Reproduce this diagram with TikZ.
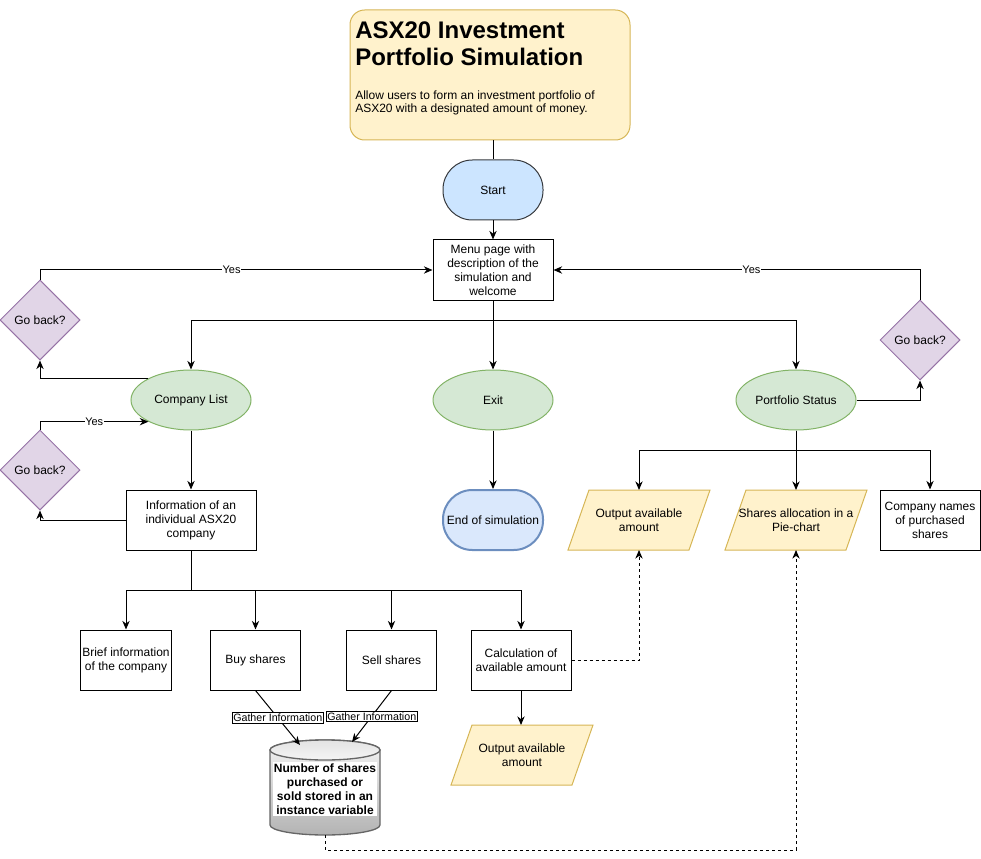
\documentclass[tikz,border=0pt]{standalone}
\usepackage{fontspec}
\setmainfont{Liberation Sans}
\usetikzlibrary{shapes.geometric,arrows.meta,calc}
\pgfdeclarelayer{background}
\pgfsetlayers{background,main}
\definecolor{ylwfill}{HTML}{FFF2CC}
\definecolor{ylwline}{HTML}{D6B656}
\definecolor{startfill}{HTML}{CCE5FF}
\definecolor{startline}{HTML}{36393D}
\definecolor{endfill}{HTML}{DAE8FC}
\definecolor{endline}{HTML}{6C8EBF}
\definecolor{grnfill}{HTML}{D5E8D4}
\definecolor{grnline}{HTML}{82B366}
\definecolor{purfill}{HTML}{E1D5E7}
\definecolor{purline}{HTML}{9673A6}
\definecolor{cyltop}{HTML}{F5F5F5}
\definecolor{cylbot}{HTML}{B3B3B3}
\definecolor{cylline}{HTML}{666666}
\begin{document}
\begin{tikzpicture}[x=0.75pt,y=-0.75pt,
  base/.style={font=\fontsize{9}{10.5}\selectfont, align=center, line width=0.75pt, inner sep=1pt},
  proc/.style={base, draw=black, fill=white, rectangle, minimum height=45pt},
  term/.style={base, rectangle, rounded corners=22pt, minimum width=75pt, minimum height=45pt},
  oval/.style={base, ellipse, draw=grnline, fill=grnfill, minimum width=90pt, minimum height=45pt},
  decide/.style={base, diamond, draw=purline, fill=purfill, minimum width=60pt, minimum height=60pt, inner sep=0pt},
  iobox/.style={base, rectangle, draw=none, outer sep=0pt, minimum width=106.5pt, minimum height=45pt},
  iofill/.style={draw=ylwline, fill=ylwfill, line width=0.75pt, line join=miter},
  arr/.style={draw=black, line width=0.75pt, -{Stealth[length=6.5pt,width=5.5pt]}},
  dsh/.style={dash pattern=on 2.25pt off 2.25pt},
  yes/.style={font=\fontsize{8.25}{9}\selectfont, fill=white, inner sep=0.5pt},
  gather/.style={font=\fontsize{8}{9}\selectfont, draw=black, fill=white, inner sep=1pt, line width=0.6pt}
]
\useasboundingbox (0,0) rectangle (981,859);

% title
\node[draw=ylwline, fill=ylwfill, line width=0.75pt, rounded corners=11pt,
      minimum width=210pt, minimum height=97.5pt] (title) at (490,75) {};
\node[anchor=base west, inner sep=0pt, font=\bfseries\fontsize{18}{20}\selectfont] (t1) at (355,39) {ASX20 Investment};
\node[anchor=base west, inner sep=0pt, font=\bfseries\fontsize{18}{20}\selectfont] (t2) at (355,65.7) {Portfolio Simulation};
\node[anchor=base west, inner sep=0pt, font=\fontsize{9}{10}\selectfont] (b1) at (355,99.3) {Allow users to form an investment portfolio of};
\node[anchor=base west, inner sep=0pt, font=\fontsize{9}{10}\selectfont] (b2) at (355,112.3) {ASX20 with a designated amount of money.};

% main flow
\node[term, draw=startline, fill=startfill] (start) at (493,190) {Start};
\node[proc, minimum width=90pt] (menu) at (493,270) {Menu page with\\description of the\\simulation and\\welcome};
\node[oval] (cl) at (191,400) {Company List};
\node[oval] (exit) at (493,400) {Exit};
\node[oval] (ps) at (796,400) {Portfolio Status};
\node[term, draw=endline, fill=endfill, line width=1.5pt] (end) at (493,520) {End of simulation};

\node[decide] (gb1) at (40,320) {Go back?};
\node[decide] (gb2) at (40,470) {Go back?};
\node[decide] (gb3) at (920,340) {Go back?};

\node[proc, minimum width=97.5pt] (info) at (191,520) {Information of an\\individual ASX20\\company};
\node[proc, minimum width=67.5pt] (brief) at (126,660) {Brief information\\of the company};
\node[proc, minimum width=67.5pt] (buy) at (255.5,660) {Buy shares};
\node[proc, minimum width=67.5pt] (sell) at (391.5,660) {Sell shares};
\node[proc, minimum width=75pt] (calc) at (521,660) {Calculation of\\available amount};

\node[iobox] (out1) at (639,520) {Output available\\amount};
\node[iobox] (shares) at (796,520) {Shares allocation in a\\Pie-chart};
\node[proc, minimum width=75pt] (cmp) at (930,520) {Company names\\of purchased\\shares};
\node[iobox] (out2) at (522,755) {Output available\\amount};

% database cylinder
\node[rectangle, draw=none, outer sep=0pt, minimum width=82.5pt, minimum height=71.25pt] (db) at (325,787.5) {};
\begin{pgfonlayer}{background}
  \foreach \n in {out1,shares,out2}{
    \path[iofill] (\n.south west) -- ($(\n.north west)+(21,0)$) -- (\n.north east) -- ($(\n.south east)+(-21,0)$) -- cycle;
  }
  \path[draw=cylline, line width=1pt, top color=cyltop, bottom color=cylbot]
    (270,750) -- (270,825) arc[start angle=180, end angle=360, x radius=41.25pt, y radius=7.5pt]
    -- (380,750) arc[start angle=0, end angle=180, x radius=41.25pt, y radius=7.5pt] -- cycle;
  \path[draw=cylline, line width=1pt, top color=gray!22, bottom color=cyltop] (325,750) ellipse[x radius=41.25pt, y radius=7.5pt];
\end{pgfonlayer}
\node[font=\bfseries\fontsize{9}{10.5}\selectfont, align=center, fill=white, inner sep=1pt] (dbt) at (325,789) {Number of shares\\purchased or\\sold stored in an\\instance variable};
\coordinate (dbin1) at (300,745);
\coordinate (dbin2) at (352,742);

% connectors
\draw[line width=0.75pt] (start.north |- title.south) -- (start.north);
\draw[arr] (start.south) -- (menu.north);
\draw[arr] (menu.south) -- ++(0,20) -| (cl.north);
\draw[arr] (menu.south) -- ++(0,20) -| (ps.north);
\draw[arr] (menu.south) -- (exit.north);
\draw[arr] (exit.south) -- (end.north);

\draw[arr] (cl.153) -| (gb1.south);
\draw[arr] (gb1.north) |- (menu.west) node[yes, pos=0.744] {Yes};
\draw[arr] (cl.south) -- (info.north);
\draw[arr] (info.west) -| (gb2.south);
\draw[arr] (gb2.north) |- (cl.207) node[yes, pos=0.75] {Yes};

\draw[arr] (ps.east) -| (gb3.south);
\draw[arr] (gb3.north) |- (menu.east) node[yes, pos=0.73] {Yes};

\draw[arr] (info.south) -- ++(0,40) -| (brief.north);
\draw[arr] (info.south) -- ++(0,40) -| (buy.north);
\draw[arr] (info.south) -- ++(0,40) -| (sell.north);
\draw[arr] (info.south) -- ++(0,40) -| (calc.north);

\draw[arr] (ps.south) -- ++(0,20) -| (out1.north);
\draw[arr] (ps.south) -- (shares.north);
\draw[arr] (ps.south) -- ++(0,20) -| (cmp.north);

\draw[arr] (buy.south) -- (dbin1) node[gather, pos=0.5] {Gather Information};
\draw[arr] (sell.south) -- (dbin2) node[gather, pos=0.5] {Gather Information};

\draw[arr] (calc.south) -- (calc.south |- out2.north);
\draw[arr, dsh] (calc.east) -| (out1.south);
\draw[arr, dsh] (db.south) -- ++(0,15) -| (shares.south);
\end{tikzpicture}
\end{document}
